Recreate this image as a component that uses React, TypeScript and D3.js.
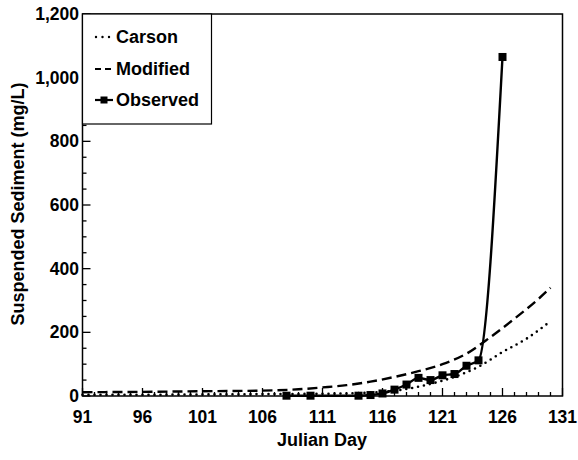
import React from "react";
import * as d3 from "d3";

const carsonDays = [91, 96, 101, 106, 111, 114, 116, 118, 120, 122, 124, 126, 128, 130];
const carsonValues = [4, 4, 5, 6, 7, 9, 13, 22, 38, 60, 92, 138, 180, 235];

const modifiedDays = [91, 96, 101, 106, 109, 111, 113, 115, 117, 119, 121, 123, 125, 127, 129, 130];
const modifiedValues = [12, 13, 15, 17, 21, 27, 34, 45, 60, 78, 100, 133, 185, 243, 305, 340];

const observedDays = [108, 110, 114, 115, 116, 117, 118, 119, 120, 121, 122, 123, 124, 126];
const observedValues = [1, 1, 1, 3, 8, 20, 36, 57, 50, 65, 69, 95, 112, 1065];

const xTicks = [91, 96, 101, 106, 111, 116, 121, 126, 131];
const yTicks = [0, 200, 400, 600, 800, 1000, 1200];

const legendLabels = ["Carson", "Modified", "Observed"];

const W = 578;
const H = 460;
const L = 82.5;
const R = 562.5;
const T = 14;
const B = 396;

const FONT = "'Liberation Sans', Arial, Helvetica, sans-serif";

export default function App() {
  const x = d3.scaleLinear().domain([91, 131]).range([L, R]);
  const y = d3.scaleLinear().domain([0, 1200]).range([B, T]);

  const line = d3
    .line<[number, number]>()
    .x((d) => x(d[0]))
    .y((d) => y(d[1]))
    .curve(d3.curveMonotoneX);

  const carson = line(carsonDays.map((d, i) => [d, carsonValues[i]]) as [number, number][]) || "";
  const modified = line(modifiedDays.map((d, i) => [d, modifiedValues[i]]) as [number, number][]) || "";
  const observed = line(observedDays.map((d, i) => [d, observedValues[i]]) as [number, number][]) || "";

  const xMinor = d3.range(91, 132, 1);
  const yMinor = d3.range(0, 1201, 50);
  const fmt = d3.format(",");

  const sq = 8;

  return (
    <svg
      width={W}
      height={H}
      style={{ position: "absolute", left: 0, top: 0, background: "#fff" }}
      fontFamily={FONT}
    >
      <rect x={0} y={0} width={W} height={H} fill="#fff" />
      {/* series */}
      <path d={carson} fill="none" stroke="#000" strokeWidth={2.6} strokeDasharray="0,6" strokeLinecap="round" />
      <path d={modified} fill="none" stroke="#000" strokeWidth={2.4} strokeDasharray="10,5" />
      <path d={observed} fill="none" stroke="#000" strokeWidth={2.4} />
      {observedDays.map((d, i) => (
        <rect key={i} x={x(d) - sq / 2} y={y(observedValues[i]) - sq / 2} width={sq} height={sq} fill="#000" />
      ))}

      {/* frame */}
      <path d={`M${L},${T}H${R}V${B}H${L}Z`} fill="none" stroke="#000" strokeWidth={1.5} />

      {/* x ticks */}
      {xMinor.map((d) => (
        <line key={"xm" + d} x1={x(d)} x2={x(d)} y1={B} y2={B - ((d - 91) % 5 === 0 ? 8 : 4)} stroke="#000" strokeWidth={1.3} />
      ))}
      {xTicks.map((d) => (
        <text key={"xt" + d} x={x(d)} y={423} textAnchor="middle" fontSize={17.5} fontWeight="bold">
          {d}
        </text>
      ))}
      {/* y ticks */}
      {yMinor.map((v) => (
        <line key={"ym" + v} x1={L} x2={L + (v % 200 === 0 ? 8 : 4)} y1={y(v)} y2={y(v)} stroke="#000" strokeWidth={1.3} />
      ))}
      {yTicks.map((v) => (
        <text key={"yt" + v} x={79} y={y(v) + 6} textAnchor="end" fontSize={17.5} fontWeight="bold">
          {fmt(v)}
        </text>
      ))}

      {/* axis titles */}
      <text x={322} y={446} textAnchor="middle" fontSize={18} fontWeight="bold">
        Julian Day
      </text>
      <text
        transform={`translate(24,204) rotate(-90)`}
        textAnchor="middle"
        fontSize={18}
        fontWeight="bold"
      >
        Suspended Sediment (mg/L)
      </text>

      {/* legend */}
      <rect x={L} y={T} width={129} height={110} fill="#fff" stroke="#000" strokeWidth={1.2} />
      <line x1={96} x2={112} y1={37} y2={37} stroke="#000" strokeWidth={2.4} strokeDasharray="0,6.5" strokeLinecap="round" />
      <line x1={95} x2={113} y1={69} y2={69} stroke="#000" strokeWidth={2.2} strokeDasharray="6,4" />
      <line x1={95} x2={113} y1={100} y2={100} stroke="#000" strokeWidth={2.2} />
      <rect x={104 - 3.5} y={100 - 3.5} width={7} height={7} fill="#000" />
      {legendLabels.map((t, i) => (
        <text key={t} x={116} y={[37, 69, 100][i] + 6} fontSize={18} fontWeight="bold">
          {t}
        </text>
      ))}
    </svg>
  );
}
